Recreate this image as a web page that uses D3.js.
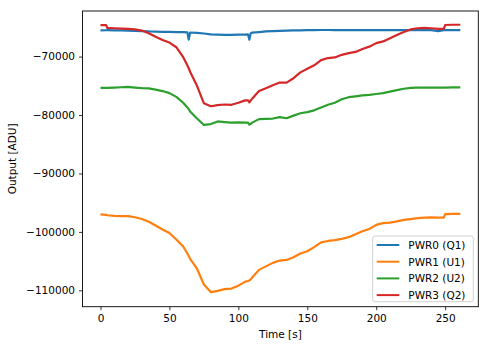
<!DOCTYPE html>
<html>
<head>
<meta charset="utf-8">
<script src="https://cdn.jsdelivr.net/npm/d3@7"></script>
<style>
  html, body { margin: 0; padding: 0; background: #fff; }
  text { font-family: "DejaVu Sans", sans-serif; }
</style>
</head>
<body>
<svg id="chart" width="489" height="347"></svg>
<script>
// ---- data ----
const time = [0,4,5,10,15,20,25,30,35,40,45,50,55,60,63,64,65,70,75,80,85,90,95,100,105,107,108,109,110,115,120,125,130,135,140,145,150,155,160,165,170,175,180,185,190,195,200,205,210,215,220,225,230,235,240,245,249,250,255,260,261];

const pwr0 = [-65500,-65490,-65480,-65500,-65520,-65550,-65600,-65650,-65700,-65720,-65760,-65780,-65800,-65830,-65850,-67100,-65880,-65950,-66050,-66200,-66250,-66300,-66300,-66250,-66250,-66200,-67100,-66000,-65900,-65800,-65700,-65650,-65600,-65550,-65520,-65500,-65480,-65480,-65450,-65450,-65460,-65460,-65470,-65470,-65480,-65480,-65480,-65480,-65480,-65480,-65480,-65480,-65480,-65480,-65480,-65650,-65480,-65480,-65480,-65480,-65480];

const pwr1 = [-97000,-97100,-97150,-97250,-97300,-97300,-97500,-97800,-98250,-98900,-99600,-100200,-101300,-102500,-103700,-104100,-104600,-106300,-109000,-110300,-110100,-109800,-109700,-109200,-108500,-108400,-108300,-108100,-107800,-106500,-105900,-105300,-104900,-104800,-104350,-103700,-103300,-102600,-101800,-101550,-101400,-101200,-100900,-100400,-99900,-99500,-98800,-98500,-98400,-98200,-97950,-97800,-97650,-97550,-97500,-97550,-97550,-96950,-96900,-96900,-96900];

const pwr2 = [-75350,-75350,-75350,-75300,-75250,-75200,-75300,-75400,-75450,-75650,-75900,-76250,-76900,-77900,-78700,-79000,-79400,-80600,-81700,-81550,-81100,-81200,-81300,-81250,-81300,-81300,-81650,-81500,-81300,-80700,-80650,-80600,-80350,-80550,-80100,-79700,-79500,-79200,-78700,-78250,-77900,-77300,-76950,-76800,-76650,-76550,-76400,-76250,-76000,-75750,-75500,-75350,-75300,-75300,-75300,-75300,-75300,-75300,-75280,-75260,-75260];

const pwr3 = [-64600,-64600,-65100,-65150,-65200,-65250,-65350,-65550,-66000,-66600,-67150,-67600,-68400,-70100,-71500,-72000,-72600,-75000,-78000,-78500,-78300,-78200,-78250,-77900,-77500,-77500,-77850,-77500,-77200,-75900,-75400,-74900,-74450,-74450,-73700,-72700,-72100,-71500,-70600,-70250,-70150,-69700,-69400,-69200,-68700,-68300,-67700,-67400,-66850,-66300,-65800,-65350,-65150,-65100,-65150,-65250,-65250,-64600,-64550,-64550,-64550];

const seriesNames = ["PWR0 (Q1)", "PWR1 (U1)", "PWR2 (U2)", "PWR3 (Q2)"];
const seriesColors = ["#1f77b4", "#ff7f0e", "#2ca02c", "#d62728"];
const seriesValues = [pwr0, pwr1, pwr2, pwr3];
const xTicks = [0, 50, 100, 150, 200, 250];
const yTicks = [-110000, -100000, -90000, -80000, -70000];
const xLabel = "Time [s]";
const yLabel = "Output [ADU]";

// ---- layout ----
const L = 82.5, R = 478.3, T = 11, B = 306.7;
const svg = d3.select("#chart");

const x = d3.scaleLinear().domain([-13.05, 274.05]).range([L, R]);
const y = d3.scaleLinear().domain([-112800, -62200]).range([B, T]);

const fmt = v => (v < 0 ? "\u2212" : "") + Math.abs(v);

// lines
svg.append("clipPath").attr("id", "clip").append("rect")
  .attr("x", L).attr("y", T).attr("width", R - L).attr("height", B - T);

const line = d3.line().x((d, i) => x(time[i])).y(d => y(d)).curve(d3.curveLinear);
const g = svg.append("g").attr("clip-path", "url(#clip)");
seriesValues.forEach((vals, k) => {
  g.append("path").attr("d", line(vals))
    .attr("fill", "none").attr("stroke", seriesColors[k])
    .attr("stroke-width", 2.2).attr("stroke-linejoin", "round");
});

// axes
const xAxis = d3.axisBottom(x).tickValues(xTicks).tickSize(3.5).tickPadding(4).tickFormat(fmt);
const yAxis = d3.axisLeft(y).tickValues(yTicks).tickSize(3.5).tickPadding(4).tickFormat(fmt);

const gx = svg.append("g").attr("transform", `translate(0,${B})`).call(xAxis);
const gy = svg.append("g").attr("transform", `translate(${L},0)`).call(yAxis);
[gx, gy].forEach(a => {
  a.select(".domain").remove();
  a.selectAll(".tick line").attr("stroke", "#000").attr("stroke-width", 0.8);
  a.selectAll(".tick text").attr("fill", "#000").attr("font-size", 10.5)
    .attr("font-family", "DejaVu Sans");
});

// frame
svg.append("rect").attr("x", L).attr("y", T).attr("width", R - L).attr("height", B - T)
  .attr("fill", "none").attr("stroke", "#000").attr("stroke-width", 0.9);

// axis labels
svg.append("text").attr("x", (L + R) / 2).attr("y", 338).attr("text-anchor", "middle")
  .attr("font-size", 10.5).attr("fill", "#000").text(xLabel);
svg.append("text").attr("transform", `translate(16,${(T + B) / 2}) rotate(-90)`)
  .attr("text-anchor", "middle").attr("font-size", 10.5).attr("fill", "#000").text(yLabel);

// legend
const lg = svg.append("g");
lg.append("rect").attr("x", 372.7).attr("y", 236).attr("width", 100.6).attr("height", 65.7)
  .attr("rx", 2.5).attr("fill", "#fff").attr("fill-opacity", 0.8)
  .attr("stroke", "#cccccc").attr("stroke-width", 0.9);
seriesNames.forEach((name, k) => {
  const yy = 245 + k * 16.7;
  lg.append("line").attr("x1", 376.7).attr("x2", 399.3).attr("y1", yy).attr("y2", yy)
    .attr("stroke", seriesColors[k]).attr("stroke-width", 2);
  lg.append("text").attr("x", 408.3).attr("y", yy + 3.8).attr("font-size", 10.5)
    .attr("fill", "#000").text(name);
});
</script>
</body>
</html>
